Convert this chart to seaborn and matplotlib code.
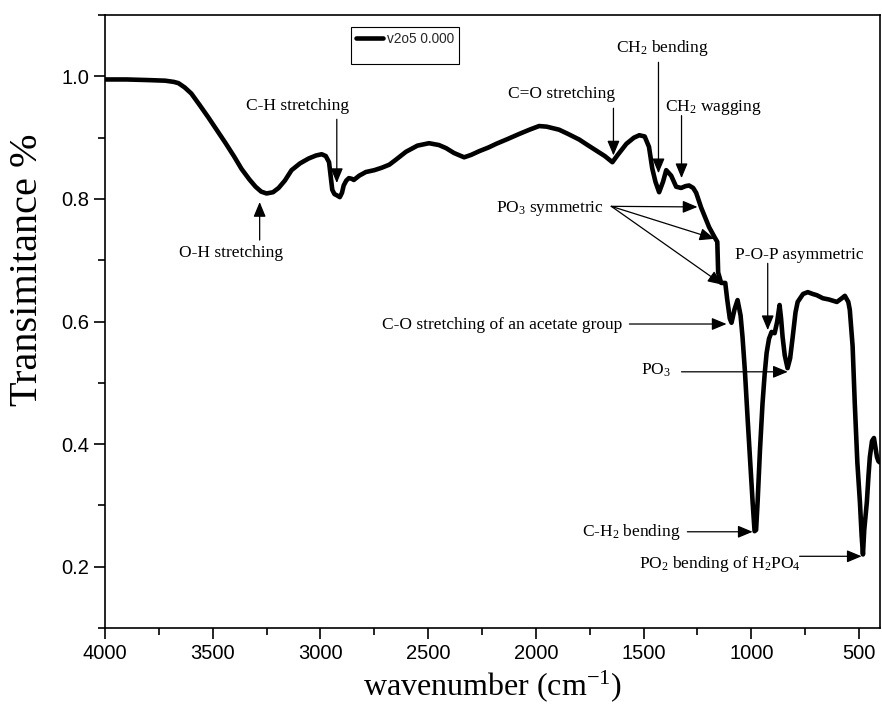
import matplotlib
matplotlib.use("Agg")
import matplotlib.pyplot as plt
from matplotlib.lines import Line2D
from matplotlib.ticker import MultipleLocator
import seaborn as sns
import pandas as pd

# ---- data ----
wavenumber = [4000, 3900, 3800, 3720, 3680, 3659, 3630, 3599, 3560, 3520, 3480, 3440,
              3400, 3366, 3330, 3301, 3275, 3250, 3220, 3194, 3165, 3134, 3095, 3055,
              3020, 2994, 2975, 2960, 2952, 2945, 2935, 2924, 2910, 2900, 2892, 2880,
              2868, 2855, 2845, 2820, 2789, 2750, 2715, 2680, 2650, 2603, 2550, 2496,
              2450, 2417, 2380, 2333, 2300, 2263, 2220, 2184, 2130, 2078, 2030, 1985,
              1950, 1892, 1850, 1799, 1760, 1720, 1680, 1645, 1620, 1580, 1545, 1520,
              1495, 1475, 1460, 1445, 1428, 1410, 1395, 1372, 1349, 1326, 1305, 1289,
              1270, 1256, 1233, 1196, 1168, 1158, 1154, 1140, 1121, 1112, 1100, 1092,
              1078, 1064, 1050, 1041, 1030, 1017, 1005, 994, 985, 978, 971, 960, 948,
              938, 929, 918, 906, 892, 880, 869, 862, 855, 845, 832, 820, 808, 795, 785,
              760, 738, 715, 696, 668, 640, 603, 580, 566, 550, 543, 530, 520, 508, 496,
              488, 482, 476, 464, 456, 450, 440, 431, 424, 417, 410, 403]
transmittance = [0.995, 0.995, 0.994, 0.993, 0.991, 0.989, 0.982, 0.972, 0.953, 0.933, 0.912, 0.891,
                 0.869, 0.849, 0.832, 0.820, 0.812, 0.809, 0.811, 0.818, 0.830, 0.847, 0.858, 0.866,
                 0.871, 0.873, 0.870, 0.860, 0.836, 0.815, 0.808, 0.806, 0.803, 0.810, 0.822, 0.830,
                 0.834, 0.833, 0.831, 0.838, 0.844, 0.847, 0.851, 0.856, 0.864, 0.877, 0.887, 0.891,
                 0.888, 0.883, 0.875, 0.868, 0.872, 0.878, 0.884, 0.890, 0.898, 0.906, 0.913, 0.919,
                 0.918, 0.913, 0.906, 0.897, 0.888, 0.879, 0.870, 0.860, 0.872, 0.890, 0.900, 0.904,
                 0.902, 0.885, 0.850, 0.828, 0.811, 0.828, 0.847, 0.838, 0.820, 0.818, 0.821, 0.822,
                 0.818, 0.810, 0.786, 0.754, 0.736, 0.730, 0.680, 0.663, 0.663, 0.636, 0.605, 0.598,
                 0.620, 0.635, 0.610, 0.575, 0.520, 0.440, 0.370, 0.305, 0.258, 0.260, 0.305, 0.390, 0.467,
                 0.515, 0.549, 0.572, 0.583, 0.581, 0.600, 0.627, 0.605, 0.575, 0.545, 0.524, 0.540, 0.575, 0.615, 0.632,
                 0.645, 0.648, 0.645, 0.643, 0.638, 0.636, 0.632, 0.638, 0.642, 0.632, 0.619, 0.560, 0.467, 0.370, 0.305,
                 0.250, 0.220, 0.260, 0.305, 0.350, 0.379, 0.405, 0.410, 0.395, 0.379, 0.372, 0.370]
series_label = "v2o5 0.000"
x_ticks = [4000, 3500, 3000, 2500, 2000, 1500, 1000, 500]
y_ticks = [0.2, 0.4, 0.6, 0.8, 1.0]

df = pd.DataFrame({"wavenumber": wavenumber, "T": transmittance})

sns.set_theme(style="ticks")
plt.rcParams["font.family"] = ["Liberation Sans", "DejaVu Sans"]
plt.rcParams["mathtext.fontset"] = "custom"
plt.rcParams["mathtext.rm"] = "Liberation Serif"
plt.rcParams["mathtext.it"] = "Liberation Serif:italic"
plt.rcParams["mathtext.bf"] = "Liberation Serif:bold"

fig = plt.figure(figsize=(8.82, 7.16), dpi=100)
ax = fig.add_axes([0.1190, 0.1229, 0.8787, 0.8560])

sns.lineplot(data=df, x="wavenumber", y="T", ax=ax, color="black", lw=3.3,
             sort=False, estimator=None, label=series_label,
             solid_joinstyle="round", solid_capstyle="round")

ax.set_xlim(4000, 403)
ax.set_ylim(0.1, 1.1)
ax.set_xticks(x_ticks)
ax.set_yticks(y_ticks)
ax.set_yticklabels([f"{v:.1f}" for v in y_ticks])
ax.xaxis.set_minor_locator(MultipleLocator(250))
ax.yaxis.set_minor_locator(MultipleLocator(0.1))
ax.tick_params(which="both", direction="out", top=False, right=False, width=1.2,
               colors="black", labelsize=14.5)
ax.tick_params(which="major", length=8)
ax.tick_params(which="minor", length=5)
for s in ax.spines.values():
    s.set_color("black")
    s.set_linewidth(1.2)

serif = ["Liberation Serif", "DejaVu Serif"]
ax.set_xlabel(r"wavenumber (cm$^{\mathregular{-1}}$)", family=serif, fontsize=23, color="black", labelpad=4)
ax.set_ylabel("Transimitance %", family=serif, fontsize=29, color="black")
ax.yaxis.set_label_coords(-0.076, 0.584)

# legend
blank = Line2D([], [], alpha=0)
h, l = ax.get_legend_handles_labels()
leg = ax.legend([h[0], blank], [l[0], " "], loc="upper left", bbox_to_anchor=(0.3175, 0.981),
                fontsize=9.8, frameon=True, fancybox=False, edgecolor="black", framealpha=1,
                handlelength=2.0, handletextpad=0.3, labelspacing=0.0, borderpad=0.35,
                borderaxespad=0, handleheight=0.6)
leg.get_frame().set_linewidth(0.8)

# annotations
afs = 12.5
aprops = dict(arrowstyle="-|>,head_length=0.6,head_width=0.25", color="black",
              lw=0.9, mutation_scale=15, shrinkA=0, shrinkB=0)

def arrow(tail, head):
    ax.annotate("", xy=head, xytext=tail, arrowprops=aprops)

def label(x, y, s, ha="left"):
    ax.text(x, y, s, family=serif, fontsize=afs, ha=ha, va="center", color="black")

label(3417, 0.712, "O-H stretching", ha="center")
arrow((3282, 0.733), (3282, 0.795))

label(3106, 0.951, "C-H stretching", ha="center")
arrow((2924, 0.930), (2924, 0.826))

label(1882, 0.972, "C=O stretching", ha="center")
arrow((1640, 0.948), (1640, 0.871))

label(1626, 1.046, r"CH$_2$ bending")
arrow((1431, 1.023), (1431, 0.842))

label(1403, 0.950, r"CH$_2$ wagging")
arrow((1324, 0.936), (1324, 0.834))

label(2185, 0.785, r"PO$_3$ symmetric")
arrow((1650, 0.788), (1250, 0.787))
arrow((1650, 0.788), (1171, 0.735))
arrow((1650, 0.788), (1133, 0.660))

label(1078, 0.708, "P-O-P asymmetric")
arrow((924, 0.695), (924, 0.586))

label(2714, 0.594, "C-O stretching of an acetate group")
arrow((1566, 0.596), (1115, 0.596))

label(1510, 0.521, r"PO$_3$")
arrow((1324, 0.518), (831, 0.518))

label(1784, 0.256, r"C-H$_2$ bending")
arrow((1297, 0.257), (994, 0.257))

label(1520, 0.204, r"PO$_2$ bending of H$_2$PO$_4$")
arrow((776, 0.217), (488, 0.217))

fig.savefig("out.png", dpi=100)
